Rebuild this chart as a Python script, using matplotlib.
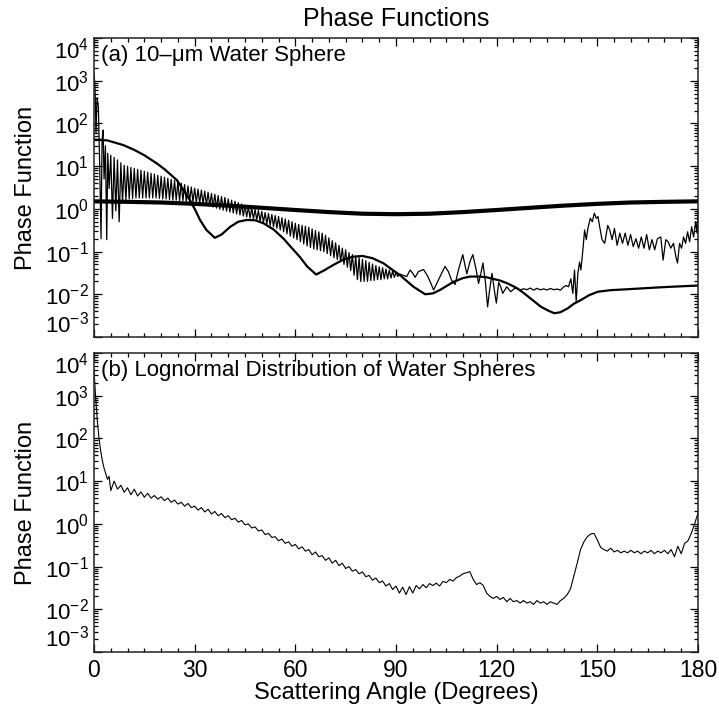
import matplotlib
matplotlib.use("Agg")
import matplotlib.pyplot as plt
import matplotlib.ticker as mticker
import numpy as np

plt.rcParams['font.family'] = ['Liberation Sans', 'DejaVu Sans']
plt.rcParams['mathtext.fontset'] = 'custom'
plt.rcParams['mathtext.rm'] = 'Liberation Sans'
plt.rcParams['mathtext.it'] = 'Liberation Sans:italic'

# ---- panel (a): 10-um sphere, oscillating curve ----
osc_fwd_ang = [0, 0.3, 0.6, 0.9, 1.3, 1.7, 2.1, 2.4, 2.7, 3.0, 3.4, 3.8, 4.1, 4.5]
osc_fwd_val = [1500, 700, 60, 400, 250, 10, 0.2, 40, 70, 5, 30, 0.19, 20, 3]

# peaks at 5,6,...,90 deg and troughs at 5.5,...,90.5 deg
osc_peaks = [18, 16, 14, 12, 10.5, 10, 9.3, 8.8, 8.4, 8.0,
             7.6, 7.2, 6.8, 6.5, 6.1, 5.8, 5.5, 5.2, 4.9, 4.6,
             4.3, 4.0, 3.7, 3.45, 3.25, 3.05, 2.9, 2.75, 2.6, 2.45,
             2.3, 2.2, 2.05, 1.95, 1.85, 1.7, 1.6, 1.5, 1.4, 1.3,
             1.2, 1.12, 1.05, 0.97, 0.92, 0.87, 0.82, 0.78, 0.74, 0.70,
             0.66, 0.62, 0.58, 0.54, 0.50, 0.46, 0.43, 0.41, 0.39, 0.37,
             0.34, 0.31, 0.29, 0.27, 0.24, 0.21, 0.18, 0.16, 0.14, 0.12,
             0.11, 0.095, 0.085, 0.078, 0.072, 0.066, 0.061, 0.056, 0.051, 0.047,
             0.044, 0.042, 0.039, 0.037, 0.035, 0.033]
osc_troughs = [0.6, 0.9, 0.5, 1.4, 1.6, 1.7, 1.75, 1.8, 1.8, 1.8,
               1.8, 1.8, 1.8, 1.8, 1.75, 1.7, 1.7, 1.65, 1.6, 1.6,
               1.55, 1.55, 1.5, 1.5, 1.45, 1.4, 1.35, 1.3, 1.23, 1.16,
               1.1, 1.04, 0.98, 0.93, 0.88, 0.84, 0.8, 0.76, 0.72, 0.68,
               0.65, 0.61, 0.58, 0.55, 0.51, 0.48, 0.44, 0.41, 0.38, 0.35,
               0.32, 0.29, 0.26, 0.23, 0.21, 0.19, 0.17, 0.15, 0.135, 0.125,
               0.115, 0.11, 0.105, 0.10, 0.09, 0.08, 0.072, 0.065, 0.058, 0.05,
               0.043, 0.036, 0.028, 0.022, 0.02, 0.02, 0.02, 0.021, 0.021, 0.022,
               0.022, 0.023, 0.023, 0.024, 0.025, 0.026]

osc_tail_ang = [91, 92, 93.2, 94.2, 95, 95.7, 96.7, 98.2, 99.4, 100.4,
                101.2, 102, 103.1, 104.6, 105.6, 106.6, 107.6, 108.6, 109.9, 111.1,
                112.1, 112.9, 113.9, 114.6, 115.3, 115.9, 116.6, 117.3, 117.9, 118.6,
                119.3, 119.9, 120.6, 121.2, 121.8, 123, 124.2, 125.5, 127, 128,
                129, 130, 131, 132, 133, 134, 135, 136, 137, 138,
                139, 140, 140.7, 141.4, 142.1, 142.7, 143.2, 143.7, 144.2, 144.7,
                145.1, 145.7, 146.2, 146.7, 147.2, 147.9, 148.5, 149.1, 149.7, 150.2,
                150.7, 151.4, 152.2, 153.1, 153.7, 154.4, 155.1, 155.9, 156.7, 157.5,
                158.3, 159.1, 159.9, 160.7, 161.5, 162.3, 163.1, 163.9, 164.7, 165.5,
                166.3, 167.1, 167.9, 168.9, 169.6, 170.4, 171.1, 171.9, 172.7, 173.4,
                173.9, 174.5, 175.1, 175.7, 176.3, 176.9, 177.5, 178.1, 178.7, 179.3,
                179.7, 180]
osc_tail_val = [0.03, 0.028, 0.026, 0.037, 0.031, 0.025, 0.034, 0.038, 0.027, 0.018,
                0.0126, 0.017, 0.026, 0.045, 0.034, 0.021, 0.017, 0.037, 0.085, 0.03,
                0.06, 0.085, 0.037, 0.018, 0.031, 0.054, 0.021, 0.0051, 0.0126, 0.031,
                0.0126, 0.0062, 0.019, 0.015, 0.0105, 0.015, 0.0115, 0.014, 0.0126, 0.0135,
                0.0128, 0.014, 0.0125, 0.0138, 0.0127, 0.0134, 0.0126, 0.0137, 0.0128, 0.0133,
                0.0125, 0.015, 0.016, 0.015, 0.023, 0.0105, 0.037, 0.0068, 0.031, 0.057,
                0.037, 0.11, 0.32, 0.19, 0.35, 0.6, 0.5, 0.79, 0.6, 0.66,
                0.38, 0.19, 0.156, 0.41, 0.32, 0.19, 0.35, 0.14, 0.27, 0.156,
                0.27, 0.14, 0.25, 0.13, 0.2, 0.12, 0.22, 0.12, 0.25, 0.11,
                0.19, 0.11, 0.2, 0.22, 0.063, 0.19, 0.17, 0.12, 0.156, 0.076,
                0.054, 0.156, 0.12, 0.22, 0.156, 0.29, 0.17, 0.38, 0.22, 0.5,
                0.27, 0.93]

# smooth curve (small sphere)
small_ang = [0, 4, 8.8, 12, 15, 18.7, 21, 24.7, 26.5, 28.6, 30, 31.6, 33.5, 36, 38,
             40.6, 43, 45.5, 48, 50.5, 53.5, 56.5, 59, 61.4, 63.5, 66.2, 68.5, 71.4,
             74.5, 77.3, 80, 83, 86.3, 89, 91.2, 95.2, 98.7, 101, 103.1, 107.1, 110,
             112.1, 115, 117, 121, 123.2, 126, 128.2, 131, 133.2, 135.5, 137.2, 139,
             141.2, 143, 145.2, 147.5, 150.2, 154, 158, 163, 167.7, 172, 176, 180]
small_val = [42, 40, 31, 24, 18, 11.6, 8.5, 4.7, 2.9, 1.6, 1.0, 0.55, 0.32, 0.21, 0.25,
             0.38, 0.5, 0.55, 0.54, 0.46, 0.33, 0.20, 0.12, 0.074, 0.045, 0.029, 0.036, 0.049,
             0.066, 0.076, 0.079, 0.07, 0.053, 0.037, 0.028, 0.015, 0.010, 0.0105, 0.0126, 0.0195, 0.024,
             0.026, 0.026, 0.025, 0.021, 0.018, 0.014, 0.0105, 0.007, 0.0051, 0.0041, 0.0036, 0.0038,
             0.0047, 0.006, 0.0074, 0.0095, 0.0115, 0.0125, 0.013, 0.0137, 0.0144, 0.015, 0.0155, 0.016]

# thick curve
ray_ang = [0, 10, 20, 30, 40, 50, 60, 70, 80, 90, 100, 110, 120, 130, 140, 150, 160, 170, 180]
ray_val = [1.5, 1.46, 1.41, 1.31, 1.19, 1.06, 0.94, 0.84, 0.77, 0.75,
           0.77, 0.84, 0.94, 1.06, 1.19, 1.31, 1.41, 1.46, 1.5]

# ---- panel (b): lognormal distribution ----
logn_fwd_ang = [0, 0.5, 1, 1.5, 2, 2.5, 3, 3.5, 4, 4.5]
logn_fwd_val = [4000, 900, 250, 100, 50, 30, 20, 15, 11, 13]
# values at 5,6,...,180 deg
logn_val = [6, 10, 6.5, 8, 5.5, 7, 4.8, 6.5, 4.5, 5.6,
            4.2, 5.2, 4.0, 4.6, 3.8, 4.3, 3.5, 4.0, 3.2, 3.6,
            2.9, 3.2, 2.6, 3.0, 2.4, 2.6, 2.1, 2.4, 1.9, 2.2,
            1.7, 1.95, 1.55, 1.75, 1.4, 1.55, 1.25, 1.35, 1.1, 1.2,
            0.95, 1.0, 0.8, 0.85, 0.68, 0.72, 0.56, 0.6, 0.48, 0.5,
            0.4, 0.44, 0.35, 0.38, 0.3, 0.33, 0.26, 0.29, 0.23, 0.25,
            0.19, 0.22, 0.17, 0.18, 0.14, 0.16, 0.12, 0.14, 0.105, 0.12,
            0.09, 0.1, 0.078, 0.085, 0.068, 0.075, 0.058, 0.062, 0.048, 0.054,
            0.042, 0.046, 0.035, 0.04, 0.029, 0.035, 0.024, 0.033, 0.022, 0.034,
            0.024, 0.036, 0.03, 0.038, 0.032, 0.04, 0.036, 0.041, 0.035, 0.045,
            0.042, 0.05, 0.046, 0.055, 0.06, 0.068, 0.072, 0.076, 0.05, 0.038,
            0.042, 0.036, 0.024, 0.02, 0.018, 0.02, 0.017, 0.019, 0.015, 0.018,
            0.015, 0.016, 0.014, 0.016, 0.014, 0.015, 0.013, 0.016, 0.014, 0.015,
            0.013, 0.015, 0.014, 0.013, 0.016, 0.018, 0.022, 0.03, 0.06, 0.12,
            0.25, 0.38, 0.5, 0.58, 0.6, 0.42, 0.28, 0.25, 0.23, 0.27,
            0.22, 0.24, 0.21, 0.23, 0.21, 0.24, 0.21, 0.23, 0.2, 0.23,
            0.21, 0.24, 0.2, 0.23, 0.21, 0.24, 0.2, 0.25, 0.17, 0.3,
            0.2, 0.35, 0.4, 0.6, 1.0, 1.8]

y_ticks = [1e-3, 1e-2, 1e-1, 1e0, 1e1, 1e2, 1e3, 1e4]
y_ticklabels = ['10$^{-3}$', '10$^{-2}$', '10$^{-1}$', '10$^{0}$',
                '10$^{1}$', '10$^{2}$', '10$^{3}$', '10$^{4}$']
x_ticks = [0, 30, 60, 90, 120, 150, 180]

# build oscillating curve
dense_ang = np.empty(2 * len(osc_peaks))
dense_ang[0::2] = np.arange(5, 5 + len(osc_peaks))
dense_ang[1::2] = np.arange(5, 5 + len(osc_peaks)) + 0.5
dense_val = np.empty(2 * len(osc_peaks))
dense_val[0::2] = osc_peaks
dense_val[1::2] = osc_troughs
osc_ang = np.concatenate([osc_fwd_ang, dense_ang, osc_tail_ang])
osc_val = np.concatenate([osc_fwd_val, dense_val, osc_tail_val])

logn_ang = np.concatenate([logn_fwd_ang, np.arange(5, 5 + len(logn_val))])
logn_all = np.concatenate([logn_fwd_val, logn_val])

fig = plt.figure(figsize=(7.19, 7.15), dpi=100)
W, H = 719.0, 715.0
ax1 = fig.add_axes([94 / W, 1 - 337 / H, 604 / W, 299 / H])
ax2 = fig.add_axes([94 / W, 1 - 652 / H, 604 / W, 299 / H])


def style(ax):
    ax.set_yscale('log')
    ax.set_xlim(0, 180)
    ax.set_ylim(1e-3, 1e4)
    ax.set_xticks(x_ticks)
    ax.xaxis.set_minor_locator(mticker.MultipleLocator(5))
    ax.set_yticks(y_ticks)
    ax.set_yticklabels(y_ticklabels, fontsize=16)
    ax.yaxis.set_minor_locator(mticker.LogLocator(base=10, subs=np.arange(2, 10), numticks=100))
    ax.yaxis.set_minor_formatter(mticker.NullFormatter())
    ax.tick_params(which='both', direction='in', top=True, right=True, width=0.9, color='black')
    ax.tick_params(which='major', length=6)
    ax.tick_params(which='minor', length=3)
    ax.tick_params(axis='x', which='major', pad=7)
    # keep the end labels inside the panel height
    ticks = ax.yaxis.get_major_ticks()
    ticks[0].label1.set_va('bottom')
    ticks[-1].label1.set_va('top')
    for s in ax.spines.values():
        s.set_linewidth(1.1)
        s.set_color('#222222')
    ax.set_ylabel('Phase Function', fontsize=17, labelpad=6)


style(ax1)
style(ax2)

ax1.plot(ray_ang, ray_val, color='black', lw=3.0, solid_capstyle='butt')
ax1.plot(small_ang, small_val, color='black', lw=1.6)
ax1.plot(osc_ang, osc_val, color='black', lw=0.9)
ax1.tick_params(axis='x', labelbottom=False)
ax1.text(0.012, 0.975, '(a) 10\u2013\u03bcm Water Sphere', transform=ax1.transAxes,
         ha='left', va='top', fontsize=16)
ax1.set_title('Phase Functions', fontsize=18, pad=9)

ax2.plot(logn_ang, logn_all, color='black', lw=0.8)
ax2.text(0.012, 0.975, '(b) Lognormal Distribution of Water Spheres', transform=ax2.transAxes,
         ha='left', va='top', fontsize=16)
ax2.set_xticklabels([str(t) for t in x_ticks], fontsize=16.5)
ax2.tick_params(axis='x', which='major', pad=5)
ax2.set_xlabel('Scattering Angle (Degrees)', fontsize=17, labelpad=0)

fig.savefig('out.png', dpi=100)
